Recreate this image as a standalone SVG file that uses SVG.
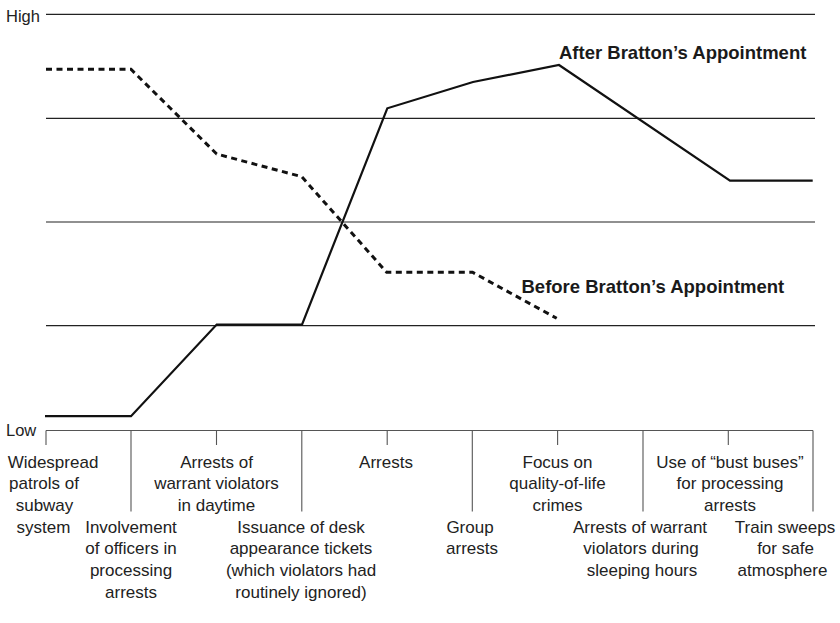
<svg xmlns="http://www.w3.org/2000/svg" width="840" height="623" viewBox="0 0 840 623">
  <style>
    .lbl { font-family: "Liberation Sans", Arial, sans-serif; font-size: 17px; fill: #222; text-anchor: middle; }
    .axis-txt { font-family: "Liberation Sans", Arial, sans-serif; font-size: 16.5px; fill: #222; }
    .series-txt { font-family: "Liberation Sans", Arial, sans-serif; font-size: 18.5px; font-weight: bold; fill: #1a1a1a; }
    .grid { stroke: #222; stroke-width: 1.2; fill: none; }
    .axis { stroke: #555; stroke-width: 1.1; fill: none; }
    .tick { stroke: #555; stroke-width: 1.1; }
    .after { stroke: #111; stroke-width: 2.2; fill: none; stroke-linejoin: miter; }
    .before { stroke: #111; stroke-width: 3; fill: none; stroke-dasharray: 6 4.5; }
  </style>
  <rect width="840" height="623" fill="#fff"/>

  <!-- scale labels -->
  <g id="scale">
    <text class="axis-txt" x="6" y="21.5">High</text>
    <text class="axis-txt" x="6" y="436">Low</text>
  </g>

  <!-- horizontal reference lines -->
  <g id="grid">
    <line class="grid" x1="46" y1="14.3" x2="815" y2="14.3"/>
    <line class="grid" x1="46" y1="118.3" x2="815" y2="118.3"/>
    <line class="grid" x1="46" y1="222" x2="815" y2="222"/>
    <line class="grid" x1="46" y1="325.7" x2="815" y2="325.7"/>
  </g>

  <!-- bottom axis with alternating short and long ticks -->
  <g id="x-axis">
    <line class="axis" x1="46" y1="430.5" x2="813" y2="430.5"/>
    <line class="tick" x1="46" y1="430.5" x2="46" y2="445"/>
    <line class="tick" x1="131" y1="430.5" x2="131" y2="511.5"/>
    <line class="tick" x1="216.5" y1="430.5" x2="216.5" y2="445"/>
    <line class="tick" x1="301.8" y1="430.5" x2="301.8" y2="511.5"/>
    <line class="tick" x1="387.2" y1="430.5" x2="387.2" y2="445"/>
    <line class="tick" x1="472.3" y1="430.5" x2="472.3" y2="511.5"/>
    <line class="tick" x1="557.6" y1="430.5" x2="557.6" y2="445"/>
    <line class="tick" x1="643" y1="430.5" x2="643" y2="511.5"/>
    <line class="tick" x1="728.3" y1="430.5" x2="728.3" y2="445"/>
    <line class="tick" x1="813" y1="430.5" x2="813" y2="511.5"/>
  </g>

  <!-- data series -->
  <g id="series">
    <polyline id="before-line" class="before" points="46,69.3 131,69.3 216.7,154 301.7,176.7 386.7,272.3 472.5,272.3 556.7,318.3"/>
    <polyline id="after-line" class="after" points="45,416.2 131,416.2 216.7,324.6 302,324.6 387.3,108.3 473,82 559,65 730,180.7 812.7,180.7"/>
    <text class="series-txt" x="559" y="59.3">After Bratton’s Appointment</text>
    <text class="series-txt" x="521.5" y="293.3">Before Bratton’s Appointment</text>
  </g>

  <!-- event labels, upper row -->
  <g id="labels-upper">
    <text class="lbl"><tspan x="53" y="467.5">Widespread</tspan><tspan x="44" y="489.2">patrols of</tspan><tspan x="44.5" y="510.9">subway</tspan><tspan x="43.5" y="532.6">system</tspan></text>
    <text class="lbl"><tspan x="216.5" y="467.5">Arrests of</tspan><tspan x="216.5" y="489.2">warrant violators</tspan><tspan x="216.5" y="510.9">in daytime</tspan></text>
    <text class="lbl"><tspan x="386" y="467.5">Arrests</tspan></text>
    <text class="lbl"><tspan x="557.5" y="467.5">Focus on</tspan><tspan x="557.5" y="489.2">quality-of-life</tspan><tspan x="557.5" y="510.9">crimes</tspan></text>
    <text class="lbl"><tspan x="730" y="467.5">Use of “bust buses”</tspan><tspan x="730" y="489.2">for processing</tspan><tspan x="730" y="510.9">arrests</tspan></text>
  </g>

  <!-- event labels, lower row -->
  <g id="labels-lower">
    <text class="lbl"><tspan x="131" y="532.6">Involvement</tspan><tspan x="131" y="554.3">of officers in</tspan><tspan x="131" y="576">processing</tspan><tspan x="131" y="597.7">arrests</tspan></text>
    <text class="lbl"><tspan x="301" y="532.6">Issuance of desk</tspan><tspan x="301" y="554.3">appearance tickets</tspan><tspan x="301" y="576">(which violators had</tspan><tspan x="301" y="597.7">routinely ignored)</tspan></text>
    <text class="lbl"><tspan x="470" y="532.6">Group</tspan><tspan x="472" y="554.3">arrests</tspan></text>
    <text class="lbl"><tspan x="640" y="532.6">Arrests of warrant</tspan><tspan x="641" y="554.3">violators during</tspan><tspan x="642" y="576">sleeping hours</tspan></text>
    <text class="lbl"><tspan x="785" y="532.6">Train sweeps</tspan><tspan x="785.5" y="554.3">for safe</tspan><tspan x="782.5" y="576">atmosphere</tspan></text>
  </g>
</svg>
